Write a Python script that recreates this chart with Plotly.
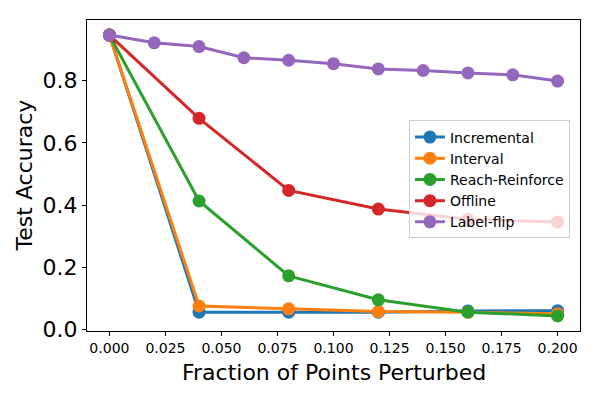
import plotly.graph_objects as go

# fractions of points perturbed
x_main = [0.0, 0.04, 0.08, 0.12, 0.16, 0.20]
x_flip = [0.0, 0.02, 0.04, 0.06, 0.08, 0.10, 0.12, 0.14, 0.16, 0.18, 0.20]

incremental = [0.947, 0.055, 0.055, 0.055, 0.059, 0.060]
interval = [0.947, 0.075, 0.066, 0.057, 0.055, 0.050]
reach_reinforce = [0.947, 0.413, 0.172, 0.095, 0.055, 0.043]
offline = [0.947, 0.679, 0.447, 0.387, 0.354, 0.345]
label_flip = [0.947, 0.922, 0.910, 0.874, 0.866, 0.855, 0.838, 0.833, 0.825, 0.819, 0.799]

x_ticks = [0.0, 0.025, 0.05, 0.075, 0.1, 0.125, 0.15, 0.175, 0.2]
y_ticks = [0.0, 0.2, 0.4, 0.6, 0.8]

FONT = "DejaVu Sans"


def add_line_trace(figure, x, y, name, color):
  figure.add_trace(go.Scatter(
    x=x,
    y=y,
    name=name,
    mode="lines+markers",
    line=dict(width=3, color=color),
    marker=dict(size=13, color=color)
  ))


fig = go.Figure()
add_line_trace(fig, x_main, incremental, "Incremental", "#1f77b4")
add_line_trace(fig, x_main, interval, "Interval", "#ff7f0e")
add_line_trace(fig, x_main, reach_reinforce, "Reach-Reinforce", "#2ca02c")
add_line_trace(fig, x_main, offline, "Offline", "#d62728")
add_line_trace(fig, x_flip, label_flip, "Label-flip", "#9467bd")

axis_common = dict(
  showline=True, mirror=True, linecolor="black", linewidth=1,
  ticks="outside", ticklen=4, tickcolor="black",
  showgrid=False, zeroline=False, automargin=False,
)

# page body has an 8px margin, so the figure is 8px smaller than the window
fig.update_layout(
  width=592, height=392,
  margin=dict(l=79, r=20, t=12, b=69),
  plot_bgcolor="white", paper_bgcolor="white",
  font=dict(family=FONT, color="black"),
  xaxis=dict(
    range=[-0.01, 0.21],
    tickvals=x_ticks, tickformat=".3f",
    tickfont=dict(size=14),
    **axis_common
  ),
  yaxis=dict(
    range=[-0.0055, 0.9955],
    tickvals=y_ticks, tickformat=".1f",
    tickfont=dict(size=22),
    **axis_common
  ),
  legend=dict(
    x=0.653, y=0.677, xanchor="left", yanchor="top",
    font=dict(size=14),
    bgcolor="rgba(255,255,255,0.8)",
    bordercolor="#cccccc", borderwidth=1,
    tracegroupgap=0,
  ),
  showlegend=True,
  annotations=[
    dict(text="Fraction of Points Perturbed", xref="paper", yref="paper",
         x=0.5, y=-0.132, xanchor="center", yanchor="middle",
         showarrow=False, font=dict(size=22)),
    dict(text="Test Accuracy", xref="paper", yref="paper",
         x=-0.126, y=0.5, xanchor="center", yanchor="middle", textangle=-90,
         showarrow=False, font=dict(size=22)),
  ],
)

fig.write_html("out.html")
